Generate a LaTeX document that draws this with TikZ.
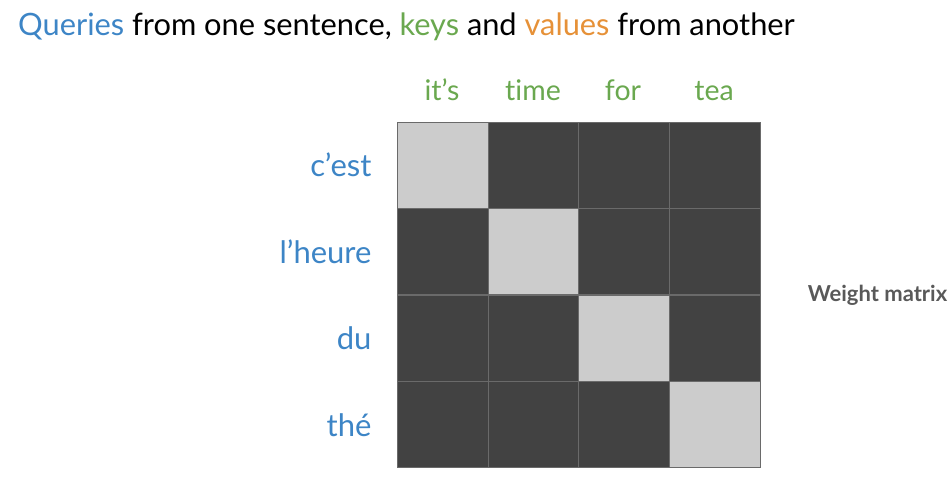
\documentclass[tikz,border=0pt]{standalone}
\usepackage{fontspec}
\setmainfont[Ligatures={NoCommon,NoRequired,NoContextual}]{Lato}
\definecolor{qblue}{HTML}{3D85C6}
\definecolor{kgreen}{HTML}{6AA84F}
\definecolor{vorange}{HTML}{E69138}
\definecolor{cdark}{HTML}{424242}
\definecolor{clight}{HTML}{CCCCCC}
\definecolor{wgray}{HTML}{595959}
\definecolor{gline}{HTML}{6A6A6A}
\begin{document}
\begin{tikzpicture}[x=1pt,y=1pt,
  dark/.style={fill=cdark,draw=gline,line width=0.8pt},
  light/.style={fill=clight,draw=gline,line width=0.8pt},
  collab/.style={text=kgreen,font=\fontsize{28.5}{34}\selectfont,anchor=base},
  rowlab/.style={text=qblue,font=\fontsize{31}{36}\selectfont,anchor=east}]
\useasboundingbox (0,0) rectangle (952,482);
% title
\node[anchor=base west,inner sep=0,font=\fontsize{30.8}{37}\selectfont] (title) at (18,446)
  {\textcolor{qblue}{Queries} from one sentence, \textcolor{kgreen}{keys} and \textcolor{vorange}{values} from another};
% grid
\foreach \c/\x in {0/397,1/488,2/578,3/669}{
  \foreach \r/\y in {0/360,1/274,2/187,3/101}{
    \pgfmathsetmacro{\xe}{\x+91}
    \pgfmathsetmacro{\ye}{\y-86.3}
    \ifnum\c=\r
      \path[light] (\x,\y) rectangle (\xe,\ye);
    \else
      \path[dark] (\x,\y) rectangle (\xe,\ye);
    \fi
  }
}
% column labels
\node[collab] (k1) at (442,381) {it’s};
\node[collab] (k2) at (533,381) {time};
\node[collab] (k3) at (623,381) {for};
\node[collab] (k4) at (714,381) {tea};
% row labels
\node[rowlab] (q1) at (375,317) {c’est};
\node[rowlab] (q2) at (375,230) {l’heure};
\node[rowlab] (q3) at (375,144) {du};
\node[rowlab] (q4) at (375,57) {thé};
% weight matrix
\node[text=wgray,font=\fontsize{22}{26}\selectfont\bfseries] (wm) at (877.5,187) {Weight matrix};
\end{tikzpicture}
\end{document}
